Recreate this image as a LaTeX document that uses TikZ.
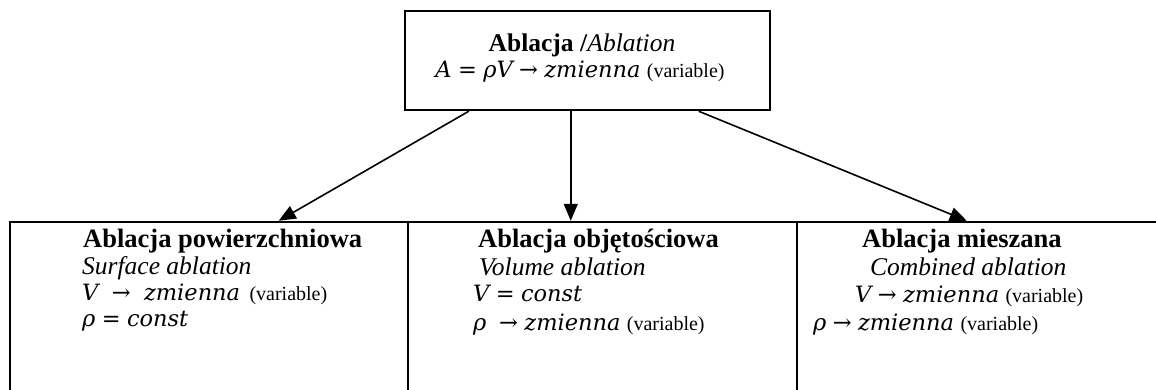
\documentclass[tikz,border=0pt]{standalone}
\usepackage{fontspec}
\setmainfont{Liberation Serif}
\newfontfamily\mfont{DejaVu Serif}
\usetikzlibrary{arrows.meta,calc}
\newcommand{\mi}[1]{{\mfont\itshape\fontsize{22.5}{30}\selectfont #1}}
\newcommand{\mr}[1]{{\mfont\fontsize{22.5}{30}\selectfont #1}}
\newcommand{\varb}{{\fontsize{20}{24}\selectfont (variable)}}
\begin{document}
\begin{tikzpicture}[x=1pt,y=-1pt,
  box/.style={draw,line width=2.5pt,inner sep=0pt},
  txt/.style={anchor=base west,inner sep=0pt,font=\fontsize{25.5}{30}\selectfont},
  hd/.style={txt,font=\fontsize{26.5}{30}\selectfont\bfseries},
  arr/.style={line width=1.6pt,-{Triangle[length=17pt,width=14pt]}}]
\clip (0,0) rectangle (1156,389);
\fill[white] (0,0) rectangle (1156,389);
% top box
\node[box,minimum width=365pt,minimum height=99pt] (top) at (587.5,60.5) {};
\node[txt,anchor=base] (t1) at (582,51) {\textbf{Ablacja /}\textit{Ablation}};
\node[txt,anchor=base] (t2) at (580,77) {\mi{A} \mr{=} \mi{ρV} \mr{→} \mi{zmienna} \varb};
% bottom boxes
\node[box,minimum width=398pt,minimum height=200pt] (b1) at (209,322) {};
\node[box,minimum width=389pt,minimum height=200pt] (b2) at (602.5,322) {};
\node[box,minimum width=383pt,minimum height=200pt] (b3) at (988.5,322) {};
% column 1
\node[hd] (c1a) at (83,247) {Ablacja powierzchniowa};
\node[txt] (c1b) at (82,274) {\textit{Surface ablation}};
\node[txt] (c1c) at (82,300) {\mi{V}\hspace{7pt} \mr{→}\hspace{7pt} \mi{zmienna}\hspace{3pt} \varb};
\node[txt] (c1d) at (82,326) {\mi{ρ} \mr{=} \mi{const}};
% column 2
\node[hd] (c2a) at (478,247) {Ablacja objętościowa};
\node[txt] (c2b) at (479,275) {\textit{Volume ablation}};
\node[txt] (c2c) at (473,301) {\mi{V} \mr{=} \mi{const}};
\node[txt] (c2d) at (473,330) {\mi{ρ}\ \ \mr{→} \mi{zmienna} \varb};
% column 3
\node[hd] (c3a) at (862,247) {Ablacja mieszana};
\node[txt] (c3b) at (870,275) {\textit{Combined ablation}};
\node[txt] (c3c) at (855,302) {\mi{V} \mr{→} \mi{zmienna} \varb};
\node[txt] (c3d) at (813,330) {\mi{ρ} \mr{→} \mi{zmienna} \varb};
% arrows
\coordinate (s1) at ($(top.south west)+(65,0)$);
\coordinate (s2) at ($(top.south west)+(167,0)$);
\coordinate (s3) at ($(top.south west)+(295,0)$);
\coordinate (e1) at ($(b1.north west)+(270,0)$);
\coordinate (e2) at ($(b2.north west)+(164,0)$);
\coordinate (e3) at ($(b3.north west)+(171,0)$);
\draw[arr] (s1) -- (e1);
\draw[arr] (s2) -- (e2);
\draw[arr] (s3) -- (e3);
\end{tikzpicture}
\end{document}
